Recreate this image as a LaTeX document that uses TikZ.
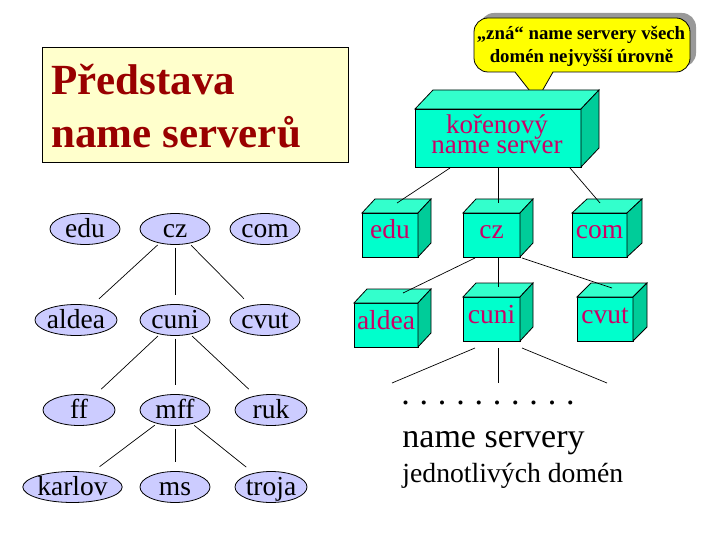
\documentclass[tikz,border=0pt]{standalone}
\usepackage{fontspec}
\setmainfont{Liberation Serif}
\usetikzlibrary{shapes.geometric}
\definecolor{titlebg}{HTML}{FFFFCC}
\definecolor{titlefg}{HTML}{990000}
\definecolor{ellfill}{HTML}{CCCCFF}
\definecolor{cubefront}{HTML}{00FFCC}
\definecolor{cubetop}{HTML}{33FFCC}
\definecolor{cubeside}{HTML}{00CC99}
\definecolor{cubetext}{HTML}{CC0066}
\definecolor{shadowgray}{HTML}{999999}
\definecolor{bubble}{HTML}{FFFF00}
\tikzset{
  cubefr/.style={draw, fill=cubefront, inner sep=0pt, outer sep=0pt, text=cubetext,
    font=\fontsize{27.5}{27.5}\selectfont, text height=16pt, text depth=8pt},
  ell/.style={ellipse, draw, line width=0.8pt, fill=ellfill, inner sep=0pt, outer sep=0pt,
    minimum height=31pt, font=\fontsize{27.5}{27.5}\selectfont, text height=17pt, text depth=1pt},
  tl/.style={line width=0.7pt, shorten <=3pt, shorten >=10pt},
  cl/.style={line width=0.7pt},
}
% [opts] name cx cy w h dx dy text
\newcommand\cubebox[9][]{%
  \node[cubefr, minimum width=#5pt, minimum height=#6pt, #1] (#2) at (#3,#4) {#9};
  \filldraw[fill=cubetop] (#2.north west) -- ++(#7,-#8) -- ([shift={(#7,-#8)}]#2.north east) -- (#2.north east) -- cycle;
  \filldraw[fill=cubeside] (#2.north east) -- ++(#7,-#8) -- ([shift={(#7,-#8)}]#2.south east) -- (#2.south east) -- cycle;
}
\begin{document}
\begin{tikzpicture}[x=1pt, y=-1pt, line width=0.8pt]
\useasboundingbox (0,0) rectangle (720,540);
\fill[white] (0,0) rectangle (720,540);

% title
\node[draw, fill=titlebg, minimum width=306pt, minimum height=115pt, inner sep=0pt] (titlebox) at (195,104.5) {};
\node[anchor=base west, inner sep=0pt, text=titlefg, font=\fontsize{43}{43}\selectfont\bfseries] (title1) at (51,95) {Představa};
\node[anchor=base west, inner sep=0pt, text=titlefg, font=\fontsize{43}{43}\selectfont\bfseries] (title2) at (51,148) {name serverů};

% left tree
\node[ell, minimum width=70pt] (ledu) at (85,229) {edu};
\node[ell, minimum width=70pt] (lcz) at (175,229) {cz};
\node[ell, minimum width=70pt] (lcom) at (265,229) {com};
\node[ell, minimum width=78pt] (laldea) at (76,320) {aldea};
\node[ell, minimum width=70pt] (lcuni) at (175,320) {cuni};
\node[ell, minimum width=70pt] (lcvut) at (265,320) {cvut};
\node[ell, minimum width=72pt] (lff) at (79,410) {ff};
\node[ell, minimum width=70pt] (lmff) at (175,410) {mff};
\node[ell, minimum width=72pt] (lruk) at (271,410) {ruk};
\node[ell, minimum width=95pt] (lkarlov) at (72.5,487) {karlov};
\node[ell, minimum width=70pt] (lms) at (175,487) {ms};
\node[ell, minimum width=72pt] (ltroja) at (271,487) {troja};
\draw[tl] (lcz) -- (laldea);
\draw[tl] (lcz) -- (lcuni);
\draw[tl] (lcz) -- (lcvut);
\draw[tl] (lcuni) -- (lff);
\draw[tl] (lcuni) -- (lmff);
\draw[tl] (lcuni) -- (lruk);
\draw[tl] (lmff) -- (lkarlov);
\draw[tl] (lmff) -- (lms);
\draw[tl] (lmff) -- (ltroja);

% callout
\fill[shadowgray, rounded corners=14pt] (480,13) rectangle (696,67);
\draw[fill=bubble, rounded corners=14pt] (500,72) -- (474,72) -- (474,18) -- (690,18) -- (690,72) -- (570,72)
   [sharp corners] -- (553,72) -- (537,100) -- (515,72) -- cycle;
\node[anchor=base, inner sep=0pt, font=\fontsize{18.8}{18.8}\selectfont\bfseries] (call1) at (581,40) {„zná“ name servery všech};
\node[anchor=base, inner sep=0pt, font=\fontsize{18.8}{18.8}\selectfont\bfseries] (call2) at (581.5,63) {domén nejvyšší úrovně};

% cubes
\cubebox{root}{498}{138}{166}{58}{18}{19}{}
\node[align=center, inner sep=0pt, text=cubetext, font=\fontsize{27}{20}\selectfont] (roottxt) at (497,133.8) {kořenový\\name server};
\cubebox{edu}{390}{235}{56}{44}{13}{14}{edu}
\cubebox{cz}{491.5}{235}{57}{44}{13}{14}{cz}
\cubebox{com}{599.5}{235}{55}{44}{15}{14}{com}
\cubebox{aldea}{386}{325}{64}{44}{13}{14}{aldea}
\cubebox{cuni}{491.5}{319}{57}{44}{13}{14}{cuni}
\cubebox{cvut}{605}{319}{56}{44}{14}{14}{cvut}

\draw[cl] ([shift={(-48,1)}]root.south) -- ([shift={(7,-10)}]edu.north);
\draw[cl] ([shift={(0,0)}]root.south) -- ([shift={(6.5,-10)}]cz.north);
\draw[cl] ([shift={(72,1)}]root.south) -- ([shift={(0.5,-10)}]com.north);
\draw[cl] ([shift={(-16.5,1)}]cz.south) -- ([shift={(17,-10)}]aldea.north);
\draw[cl] ([shift={(6.5,1)}]cz.south) -- ([shift={(6.5,-10)}]cuni.north);
\draw[cl] ([shift={(30.5,1)}]cz.south) -- ([shift={(7,-9)}]cvut.north);

\coordinate (d1) at (392,383);
\coordinate (d2) at (498,383);
\coordinate (d3) at (607,383);
\draw[cl] ([shift={(-16.5,7)}]cuni.south) -- (d1);
\draw[cl] ([shift={(6.5,7)}]cuni.south) -- (d2);
\draw[cl] ([shift={(30.5,7)}]cuni.south) -- (d3);

\node[anchor=base west, inner sep=0pt, font=\fontsize{34}{34}\selectfont] (dots) at (401,404) {\frenchspacing\spaceskip=9.8pt\relax . . . . . . . . . .};
\node[anchor=base west, inner sep=0pt, font=\fontsize{34}{34}\selectfont] (ns) at (402,447) {name servery};
\node[anchor=base west, inner sep=0pt, font=\fontsize{27.7}{27.7}\selectfont] (jd) at (402,482) {jednotlivých domén};
\end{tikzpicture}
\end{document}
